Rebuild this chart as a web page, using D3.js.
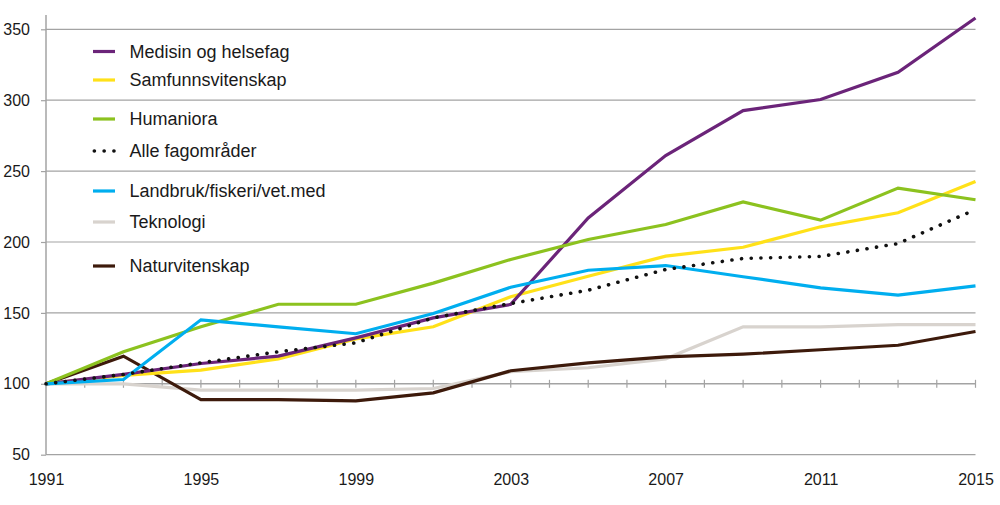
<!DOCTYPE html>
<html>
<head>
<meta charset="utf-8">
<script src="https://cdn.jsdelivr.net/npm/d3@7"></script>
<style>
  body { margin: 0; background: #fff; }
  text { font-family: "Liberation Sans", Arial, sans-serif; }
</style>
</head>
<body>
<div id="chart"></div>
<script>
// index numbers, 1991 = 100, every second year
var years = [1991, 1993, 1995, 1997, 1999, 2001, 2003, 2005, 2007, 2009, 2011, 2013, 2015];

var medisin    = [100, 106.6, 114.3, 119.5, 132.4, 146.5, 156, 217, 261, 292.7, 300.5, 319.7, 358];
var samfunn    = [100, 106, 109.6, 117.6, 131.7, 140.2, 161.4, 175.9, 190, 196.3, 210.7, 220.6, 242.7];
var humaniora  = [100, 122.6, 140.2, 156.1, 156.1, 171, 187.7, 201.8, 212.3, 228.3, 215.4, 238, 229.8];
var alle       = [100, 106.6, 114.8, 122.6, 128.9, 146.5, 156.6, 166, 180.6, 188.4, 189.8, 198.9, 222.9];
var landbruk   = [100, 103, 145.1, 140.2, 135.3, 149.6, 168.1, 180.1, 183.4, 175.5, 167.7, 162.5, 169.1];
var teknologi  = [100, 100, 95.5, 95.5, 95.5, 96.7, 108.5, 111.3, 117.6, 140.2, 140.2, 141.8, 141.8];
var natur      = [100, 119.5, 88.9, 88.9, 88, 93.6, 109.2, 114.8, 119, 120.9, 124, 127.2, 136.9];

var seriesNames = ["Medisin og helsefag", "Samfunnsvitenskap", "Humaniora", "Alle fagområder",
                   "Landbruk/fiskeri/vet.med", "Teknologi", "Naturvitenskap"];
var seriesValues = [medisin, samfunn, humaniora, alle, landbruk, teknologi, natur];
var seriesColors = ["#6b2479", "#ffe119", "#8cc21f", "#111111", "#00aeef", "#d8d3ce", "#3d1a0b"];

var yTicks = [50, 100, 150, 200, 250, 300, 350];
var xLabelYears = [1991, 1995, 1999, 2003, 2007, 2011, 2015];

// legend rows are not evenly spaced in the original
var legendY = [51.5, 80, 119, 151, 191, 222, 266];
// drawing order (index into the series lists), dotted total on top
var drawOrder = [5, 6, 1, 0, 2, 4, 3];

var width = 1000, height = 505;

var svg = d3.select("#chart").append("svg")
   .attr("width", width)
   .attr("height", height);

var x = d3.scaleLinear().domain([1991, 2015]).range([46, 975.5]);
var y = d3.scaleLinear().domain([50, 350]).range([454.7, 29.3]);

// gridlines
svg.append("g").selectAll("line")
   .data(yTicks.filter(function (d) { return d != 100; }))
   .enter().append("line")
   .attr("x1", x(1991)).attr("x2", x(2015))
   .attr("y1", function (d) { return y(d); })
   .attr("y2", function (d) { return y(d); })
   .attr("stroke", "#a3a3a3")
   .attr("stroke-width", 1.2);

// y axis with labels
var yAxis = svg.append("g")
   .attr("transform", "translate(" + x(1991) + ",0)")
   .call(d3.axisLeft(y).tickValues(yTicks).tickSize(5).tickPadding(11));
yAxis.select(".domain").attr("d", "M0,15V" + y(50)).attr("stroke", "#a3a3a3").attr("stroke-width", 1.5);
yAxis.selectAll(".tick line").attr("stroke", "#a3a3a3").attr("stroke-width", 1.2);
yAxis.selectAll(".tick text")
   .style("font-family", "'Liberation Sans', Arial, sans-serif")
   .style("font-size", "16px")
   .attr("fill", "#1a1a1a");

// the x axis sits on the 100 line, ticks every year crossing it
var allYears = d3.range(1991, 2016);
var xAxis = svg.append("g");
xAxis.append("line")
   .attr("x1", x(1991)).attr("x2", x(2015))
   .attr("y1", y(100)).attr("y2", y(100))
   .attr("stroke", "#a3a3a3").attr("stroke-width", 1.5);
xAxis.selectAll(".yt")
   .data(allYears.slice(1))
   .enter().append("line")
   .attr("x1", function (d) { return x(d); })
   .attr("x2", function (d) { return x(d); })
   .attr("y1", y(100) - 4).attr("y2", y(100) + 4)
   .attr("stroke", "#a3a3a3").attr("stroke-width", 1.2);

// year labels under the chart
var xLab = svg.append("g")
   .attr("transform", "translate(0," + y(50) + ")")
   .call(d3.axisBottom(x).tickValues(xLabelYears).tickFormat(d3.format("d")).tickSize(0).tickPadding(19));
xLab.select(".domain").remove();
xLab.selectAll(".tick text")
   .style("font-family", "'Liberation Sans', Arial, sans-serif")
   .style("font-size", "16px")
   .attr("fill", "#1a1a1a");

// lines
var line = d3.line()
   .x(function (d, i) { return x(years[i]); })
   .y(function (d) { return y(d); });

drawOrder.forEach(function (si) {
   var p = svg.append("path")
      .datum(seriesValues[si])
      .attr("d", line)
      .attr("fill", "none")
      .attr("stroke", seriesColors[si])
      .attr("stroke-linejoin", "miter");
   if (si == 3) {
      p.attr("stroke-width", 3.6)
       .attr("stroke-linecap", "round")
       .attr("stroke-dasharray", "0.1,9.6");
   } else {
      p.attr("stroke-width", 3.2);
   }
});

// legend
var leg = svg.append("g").selectAll("g")
   .data(seriesNames)
   .enter().append("g")
   .attr("transform", function (d, i) { return "translate(0," + legendY[i] + ")"; });

leg.append("line")
   .attr("x1", function (d, i) { return i == 3 ? 94.3 : 93; })
   .attr("x2", function (d, i) { return i == 3 ? 114 : 115; })
   .attr("y1", 0).attr("y2", 0)
   .attr("stroke", function (d, i) { return seriesColors[i]; })
   .attr("stroke-width", function (d, i) { return i == 3 ? 3.6 : 3.2; })
   .attr("stroke-linecap", function (d, i) { return i == 3 ? "round" : "butt"; })
   .attr("stroke-dasharray", function (d, i) { return i == 3 ? "0.1,9.7" : null; });

leg.append("text")
   .attr("x", 129.5)
   .attr("y", 0)
   .attr("dy", "0.35em")
   .style("font-size", "18px")
   .attr("fill", "#1a1a1a")
   .text(function (d) { return d; });
</script>
</body>
</html>
